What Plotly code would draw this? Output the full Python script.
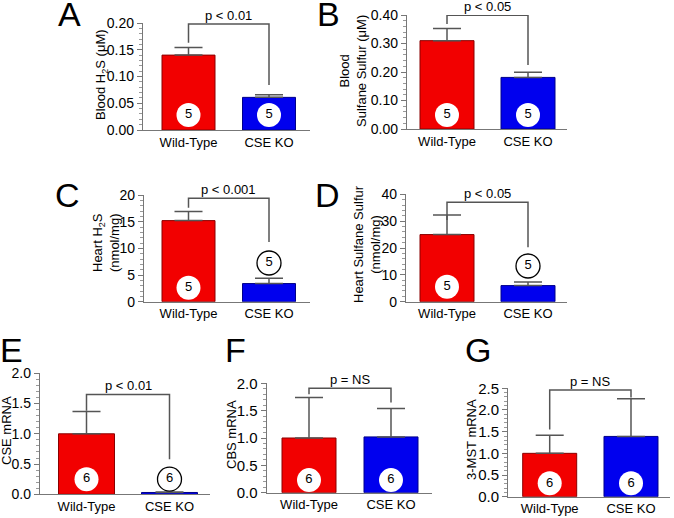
import plotly.graph_objects as go

W, H = 674, 518
FONT = 'Liberation Sans, Arial, Helvetica, sans-serif'

groups = ['Wild-Type', 'CSE KO']
letters = ['A', 'B', 'C', 'D', 'E', 'F', 'G']

# values: mean and upper error bar per panel
mean_a = [0.140, 0.061]
err_a = [0.014, 0.005]
mean_b = [0.310, 0.181]
err_b = [0.043, 0.018]
mean_c = [15.2, 3.4]
err_c = [1.7, 1.0]
mean_d = [25.0, 6.0]
err_d = [7.3, 1.3]
mean_e = [1.0, 0.03]
err_e = [0.37, 0.01]
mean_f = [1.0, 1.02]
err_f = [0.74, 0.52]
mean_g = [1.0, 1.39]
err_g = [0.42, 0.87]

n_a = [5, 5]
n_b = [5, 5]
n_c = [5, 5]
n_d = [5, 5]
n_e = [6, 6]
n_f = [6, 6]
n_g = [6, 6]

# height of the "n" bubbles, and which of them sit outside the bar
n_pos_a = [0.028, 0.028]
n_pos_b = [0.049, 0.049]
n_pos_c = [2.6, 7.25]
n_pos_d = [5.6, 13.3]
n_pos_e = [0.25, 0.25]
n_pos_f = [0.23, 0.23]
n_pos_g = [0.31, 0.31]
n_out_a = [0, 0]
n_out_b = [0, 0]
n_out_c = [0, 1]
n_out_d = [0, 1]
n_out_e = [0, 1]
n_out_f = [0, 0]
n_out_g = [0, 0]

# significance brackets: left leg end, top, right leg end
brk_a = [0.163, 0.198, 0.084]
brk_b = [0.368, 0.399, 0.225]
brk_c = [17.6, 19.4, 11.2]
brk_d = [30.4, 37.0, 20.3]
brk_e = [1.38, 1.65, 0.58]
brk_f = [1.80, 1.91, 1.65]
brk_g = [1.55, 2.46, 2.29]
p_text = ['p < 0.01', 'p < 0.05', 'p < 0.001', 'p < 0.05', 'p < 0.01', 'p = NS', 'p = NS']

y_titles = ['Blood H<sub>2</sub>S (μM)',
            'Blood<br>Sulfane Sulfur (μM)',
            'Heart H<sub>2</sub>S<br>(nmol/mg)',
            'Heart Sulfane Sulfur<br>(nmol/mg)',
            'CSE mRNA', 'CBS mRNA', '3-MST mRNA']
y_max = [0.2, 0.4, 20, 40, 2.0, 2.0, 2.5]
y_dtick = [0.05, 0.1, 5, 10, 0.5, 0.5, 0.5]
y_fmt = ['.2f', '.2f', 'd', 'd', '.1f', '.1f', '.1f']

means = [mean_a, mean_b, mean_c, mean_d, mean_e, mean_f, mean_g]
errs = [err_a, err_b, err_c, err_d, err_e, err_f, err_g]
ns = [n_a, n_b, n_c, n_d, n_e, n_f, n_g]
n_pos = [n_pos_a, n_pos_b, n_pos_c, n_pos_d, n_pos_e, n_pos_f, n_pos_g]
n_out = [n_out_a, n_out_b, n_out_c, n_out_d, n_out_e, n_out_f, n_out_g]
brackets = [brk_a, brk_b, brk_c, brk_d, brk_e, brk_f, brk_g]

# layout in pixels: axis left, axis right, top, bottom, bar centre 1, bar centre 2, bar width
boxes = [
    (143, 310, 23, 130, 188.5, 269, 53),
    (407, 567, 15, 129, 447, 528, 54),
    (144, 310, 195, 301.7, 188.5, 269, 53),
    (406, 567, 194.3, 301.7, 447, 528, 54),
    (40, 210, 373.3, 494.3, 86.5, 169.5, 56),
    (266.7, 431.7, 383.3, 492.7, 309, 391, 54),
    (508.3, 670, 388.3, 496.7, 549.7, 631, 54),
]
tick_size = [14, 14, 14, 14, 14, 15, 15]
# y-title centre (px) and panel letter centre (px)
title_pos = [(101, 75), (353, 71), (106, 243), (367, 244), (6, 431), (231, 435), (471, 440)]
letter_pos = [(69, 14), (328, 14), (67, 195), (327, 195), (11, 350), (235, 350), (478, 350)]

fig = go.Figure()
layout = {}
shapes = []
annotations = []

for i in range(7):
    x0, x1, top, bot, c0, c1, bw = boxes[i]
    unit = c1 - c0
    xr = [(x0 - c0) / unit, 1 + (x1 - c1) / unit]
    sfx = '' if i == 0 else str(i + 1)
    xa, ya = 'x' + sfx, 'y' + sfx

    fig.add_trace(go.Bar(
        x=[0, 1], y=means[i], width=bw / unit,
        marker=dict(color=['#f20000', '#0000ee'],
                    line=dict(color=['#8a0000', '#00008a'], width=1)),
        error_y=dict(type='data', symmetric=False, array=errs[i], arrayminus=[0, 0],
                     color='#555555', thickness=1.5, width=14),
        xaxis=xa, yaxis=ya, showlegend=False, hoverinfo='skip'))

    fig.add_trace(go.Scatter(
        x=[0, 1], y=n_pos[i], mode='markers+text',
        text=[str(v) for v in ns[i]], textposition='middle center',
        textfont=dict(family=FONT, size=13, color='black'),
        marker=dict(size=24, color='white',
                    line=dict(color='black', width=[1.3 if o else 0 for o in n_out[i]])),
        xaxis=xa, yaxis=ya, showlegend=False, hoverinfo='skip', cliponaxis=False))

    layout['xaxis' + sfx] = dict(
        domain=[x0 / W, x1 / W], range=xr, anchor=ya, automargin=False,
        tickvals=[0, 1], ticktext=groups, ticks='', showline=True,
        linecolor='#777777', linewidth=1.3, showgrid=False, zeroline=False,
        tickfont=dict(family=FONT, size=13, color='black'), fixedrange=True)
    layout['yaxis' + sfx] = dict(
        domain=[1 - bot / H, 1 - top / H], range=[0, y_max[i]], anchor=xa,
        automargin=False,
        dtick=y_dtick[i], tickformat=y_fmt[i], ticks='outside', ticklen=5,
        tickcolor='#777777', tickwidth=1.2, showline=True, linecolor='#777777',
        linewidth=1.3, showgrid=False, zeroline=False,
        minor=dict(dtick=y_dtick[i] / 5, ticks='outside', ticklen=3,
                   tickcolor='#999999', showgrid=False),
        tickfont=dict(family=FONT, size=tick_size[i], color='black'), fixedrange=True)

    left, tp, right = brackets[i]
    shapes.append(dict(type='path', xref=xa, yref=ya,
                       path=f'M 0 {left} L 0 {tp} L 1 {tp} L 1 {right}',
                       line=dict(color='#555555', width=1.5)))
    annotations.append(dict(x=0.5, y=tp, xref=xa, yref=ya, text=p_text[i],
                            showarrow=False, yanchor='bottom', yshift=-1,
                            font=dict(family=FONT, size=13, color='black')))
    tx, ty = title_pos[i]
    annotations.append(dict(x=tx / W, y=1 - ty / H, xref='paper', yref='paper',
                            text=y_titles[i], textangle=-90, showarrow=False,
                            xanchor='center', yanchor='middle',
                            font=dict(family=FONT, size=13, color='black')))
    lx, ly = letter_pos[i]
    annotations.append(dict(x=lx / W, y=1 - ly / H, xref='paper', yref='paper',
                            text=letters[i], showarrow=False,
                            xanchor='center', yanchor='middle',
                            font=dict(family=FONT, size=34, color='black')))

fig.update_layout(width=W, height=H, margin=dict(l=0, r=0, t=0, b=0),
                  paper_bgcolor='white', plot_bgcolor='white',
                  shapes=shapes, annotations=annotations, **layout)

fig.write_html("out.html", config={'displayModeBar': False},
               post_script="document.body.style.margin = '0';")
